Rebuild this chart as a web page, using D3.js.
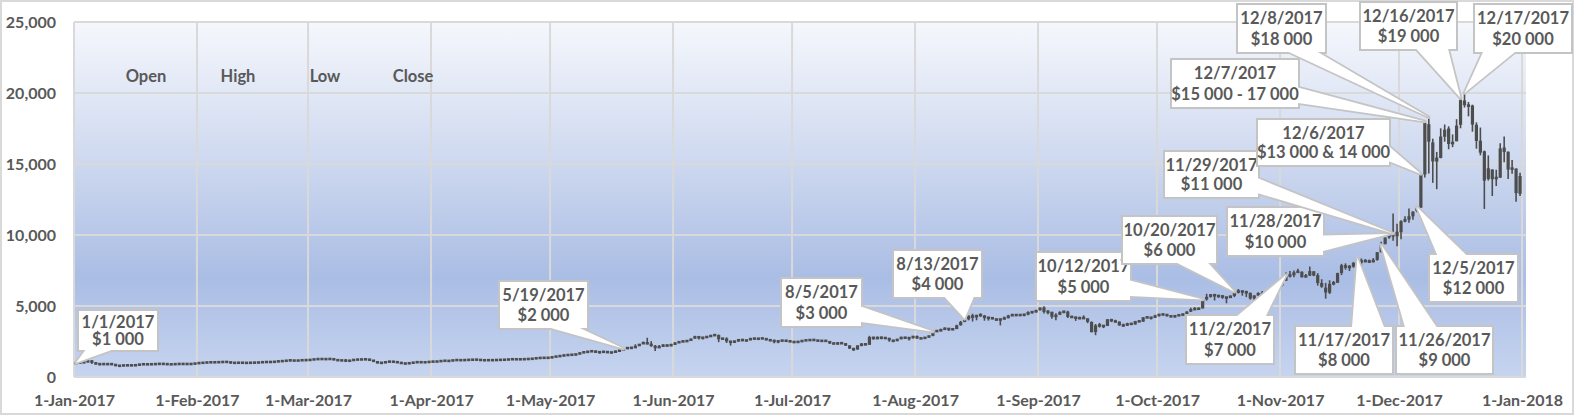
<!DOCTYPE html>
<html><head><meta charset="utf-8">
<script src="https://cdn.jsdelivr.net/npm/d3@7"></script>
<style>
body{margin:0;background:#fff;}
svg text{font-family:Lato,"Open Sans","DejaVu Sans",sans-serif;font-weight:700;fill:#595959;}
</style>
</head><body>
<svg id="c" width="1574" height="415"></svg>
<script>
// ---------- DATA (Bitcoin daily OHLC, 2017) ----------
const startYear = 2017;
const opens = [
964,999,1022,1044,1157,1014,903,908,913,902,908,775,804,825,818,822,831,909,888,898,896,922,926,920,892,894,916,918,920,913,920,
971,990,1011,1032,1040,1034,1053,1064,1062,996,999,1010,1000,992,1011,1011,1031,1052,1061,1055,1080,1121,1118,1172,1171,1144,1174,1188,
1180,1224,1250,1278,1254,1267,1274,1223,1150,1189,1116,1177,1222,1232,1240,1251,1180,1100,970,1025,1048,1114,1042,1045,938,971,969,1045,1047,1038,1041,
1081,1080,1098,1146,1134,1136,1200,1190,1180,1205,1209,1226,1218,1180,1185,1187,1187,1205,1212,1220,1248,1253,1244,1250,1257,1281,1290,1340,1345,1353,
1348,1421,1454,1490,1540,1556,1579,1596,1723,1757,1780,1845,1723,1772,1781,1722,1727,1818,1897,1985,2067,2043,2191,2321,2447,2320,2197,2054,2160,2255,2187,
2289,2412,2493,2512,2553,2711,2870,2721,2808,2828,2942,2953,2680,2716,2499,2469,2514,2665,2549,2600,2722,2683,2707,2738,2590,2592,2478,2553,2568,2539,
2492,2436,2498,2564,2602,2608,2608,2520,2572,2525,2385,2333,2403,2360,2230,1991,1932,2233,2323,2269,2838,2668,2809,2733,2757,2577,2539,2682,2807,2724,2763,
2871,2728,2709,2807,2898,3258,3213,3370,3421,3342,3374,3650,3880,4066,4327,4201,4384,4325,4137,4189,4091,3998,4089,4137,4333,4372,4345,4385,4389,4570,4555,
4701,4901,4585,4592,4229,4376,4590,4606,4229,4229,4123,4169,4131,3875,3166,3637,3606,3591,4073,3916,3901,3629,3630,3780,3696,3929,3892,4211,4171,4166,
4342,4395,4408,4319,4230,4324,4370,4429,4614,4777,4789,4829,5465,5643,5836,5687,5741,5604,5584,5709,6006,6037,6006,5935,5525,5747,5904,5787,5755,6114,6132,
6440,6778,7087,7164,7404,7403,7023,7142,7446,7173,6618,6295,5938,6561,6634,7323,7853,7698,7769,8040,8205,8077,8233,8075,8241,8790,9353,9823,10077,9906,
10198,10978,11082,11315,11685,11923,14266,17802,16523,15168,15427,16919,17500,16384,16601,17760,19475,19106,19118,17760,16642,15899,13949,14608,13996,14036,16163,15864,14695,14681,12898
];
const highs = [
1003,1031,1044,1159,1191,1047,909,943,914,915,919,826,829,835,823,835,911,918,905,899,927,938,928,923,898,920,920,923,920,921,971,
989,1013,1034,1045,1041,1052,1063,1080,1077,1003,1015,1010,1009,1014,1014,1034,1056,1067,1061,1085,1123,1125,1172,1200,1175,1176,1190,1193,
1223,1263,1281,1280,1267,1275,1274,1232,1197,1270,1201,1231,1239,1244,1256,1254,1180,1113,1061,1051,1120,1115,1062,1046,975,1010,1046,1059,1056,1049,1081,
1104,1107,1146,1150,1135,1200,1201,1200,1209,1210,1226,1226,1222,1191,1193,1190,1205,1217,1225,1249,1256,1259,1252,1258,1281,1294,1345,1347,1355,1367,
1436,1474,1494,1608,1568,1579,1597,1723,1800,1788,1874,1859,1774,1800,1782,1752,1846,1904,1998,2084,2077,2303,2321,2493,2763,2528,2257,2262,2300,2301,2335,
2448,2488,2581,2552,2700,2900,2870,2808,2833,2950,2979,2996,2718,2796,2534,2527,2686,2671,2622,2764,2745,2732,2747,2738,2681,2630,2552,2604,2590,2556,
2515,2515,2595,2611,2616,2616,2608,2570,2572,2537,2413,2423,2425,2363,2231,2058,2230,2387,2397,2900,2838,2863,2832,2777,2768,2610,2694,2829,2809,2759,2889,
2922,2763,2813,2896,3290,3293,3396,3485,3422,3453,3680,3949,4208,4325,4455,4381,4484,4371,4243,4196,4109,4128,4255,4376,4455,4379,4416,4403,4626,4626,4736,
4892,4975,4714,4592,4485,4617,4655,4662,4308,4246,4245,4344,4131,3921,3733,3808,3664,4079,4094,4032,3916,3758,3819,3795,3950,3969,4211,4256,4214,4383,
4403,4470,4432,4352,4360,4414,4460,4624,4878,4922,4873,5446,5857,5837,5852,5776,5765,5605,5745,6061,6194,6076,6075,5935,5747,5971,6060,5867,6255,6214,6470,
6767,7367,7461,7492,7617,7445,7253,7776,7446,7312,6885,6625,6811,6764,7342,7967,8004,7884,8102,8265,8348,8302,8268,8374,8790,9522,9818,10125,11517,10801,
11046,11320,11858,11658,12032,14369,17899,18353,16784,15851,17513,17781,17653,17085,18155,19716,20089,19371,19177,17935,17568,15943,15603,14626,14593,16461,16930,15888,15279,14681,14377
];
const lows = [
959,997,1022,1044,910,884,824,887,880,901,763,756,780,812,813,820,831,858,884,887,896,898,917,892,888,894,910,916,911,913,918,
971,983,1008,1015,1018,1034,1047,1051,946,966,996,996,984,990,1005,1010,1030,1052,1042,1049,1080,1100,1117,1094,1122,1130,1174,1170,
1180,1215,1250,1249,1238,1263,1177,1149,1141,1055,1116,1175,1220,1220,1240,1154,1069,960,970,1025,1048,1020,1031,934,904,966,966,1031,1012,1020,1039,
1075,1080,1096,1114,1117,1136,1172,1175,1179,1198,1204,1213,1166,1170,1178,1180,1179,1202,1205,1216,1240,1230,1239,1245,1255,1280,1290,1315,1335,1340,
1348,1405,1446,1490,1500,1555,1536,1596,1717,1729,1778,1695,1654,1751,1699,1672,1709,1807,1897,1984,1985,2043,2191,2321,2301,2128,1835,2045,2106,2159,2187,
2289,2396,2476,2492,2553,2711,2635,2649,2777,2828,2883,2455,2644,2396,2212,2405,2484,2515,2530,2600,2625,2644,2707,2583,2526,2374,2369,2492,2519,2476,
2419,2412,2480,2562,2559,2582,2498,2492,2518,2321,2296,2276,2341,2183,1979,1843,1932,2164,2260,2269,2622,2667,2653,2700,2481,2450,2530,2662,2692,2577,2720,
2685,2669,2709,2780,2875,3183,3211,3345,3247,3332,3374,3613,3858,3989,3906,3994,4243,3964,3971,4069,3988,3633,4078,4130,4307,4292,4317,4280,4353,4471,4549,
4679,4469,4417,4103,3998,4376,4492,4155,4154,3952,4073,4083,3789,3153,2946,3487,3445,3591,3868,3856,3614,3553,3594,3666,3696,3880,3892,4139,4047,4166,
4269,4378,4258,4210,4198,4320,4318,4429,4574,4755,4751,4822,5380,5591,5387,5575,5508,5193,5584,5628,5888,5729,5627,5451,5409,5720,5731,5688,5684,6040,6103,
6377,6758,7002,7031,7333,7007,7023,7115,7102,6436,6281,5519,5844,6461,6634,7176,7561,7463,7694,7997,7762,8075,8038,8075,8191,8775,9353,9736,9601,9202,
9694,10906,10862,11081,11605,11923,14057,14336,13674,13226,15404,16571,16039,16185,16601,17515,18974,18355,17276,16077,15608,11834,13828,12747,13448,14028,15115,13937,14307,12350,12755
];
const closes = [
998,1022,1044,1155,1013,902,909,911,903,908,778,805,824,818,822,832,908,887,899,895,922,925,921,893,894,916,919,920,914,920,970,
989,1011,1029,1040,1034,1052,1063,1061,995,999,1010,999,991,1012,1011,1030,1052,1061,1055,1080,1120,1118,1171,1177,1146,1174,1188,1189,
1223,1251,1274,1255,1267,1272,1223,1150,1188,1116,1176,1221,1231,1240,1250,1187,1100,973,1022,1047,1115,1039,1044,934,965,966,1046,1045,1038,1037,1079,
1087,1099,1144,1142,1133,1197,1190,1181,1205,1208,1226,1218,1180,1185,1186,1187,1205,1210,1219,1247,1255,1243,1252,1257,1280,1285,1345,1342,1355,1348,
1421,1453,1491,1537,1555,1578,1596,1723,1756,1788,1849,1725,1771,1776,1723,1734,1839,1889,1987,2084,2041,2173,2321,2444,2304,2202,2039,2155,2256,2175,2286,
2407,2488,2516,2550,2697,2863,2732,2806,2823,2947,2958,2659,2717,2506,2464,2519,2655,2548,2590,2721,2689,2706,2727,2590,2589,2478,2552,2574,2540,2481,
2434,2507,2565,2601,2601,2609,2519,2572,2518,2372,2337,2398,2357,2233,1999,1930,2228,2319,2273,2817,2667,2810,2730,2754,2576,2529,2671,2809,2726,2757,2875,
2718,2711,2804,2895,3252,3213,3378,3419,3342,3381,3650,3884,4073,4325,4181,4376,4331,4160,4194,4087,4001,4101,4151,4334,4371,4352,4382,4382,4579,4565,4703,
4892,4579,4582,4236,4376,4597,4599,4229,4226,4122,4161,4130,3882,3154,3637,3625,3582,4066,3925,3906,3631,3631,3776,3703,3942,3910,4208,4185,4174,4338,
4403,4409,4317,4229,4328,4370,4427,4611,4772,4782,4826,5446,5647,5831,5679,5726,5605,5590,5708,6011,6031,6008,5930,5526,5750,5904,5780,5754,6154,6131,6469,
6767,7079,7207,7380,7407,7023,7144,7460,7143,6619,6357,5951,6559,6636,7315,7871,7708,7790,8036,8200,8071,8254,8038,8253,8791,9330,9818,10058,9888,10233,
10975,11074,11323,11657,11916,14291,17899,16569,15178,15455,16936,17415,16408,16564,17706,19497,19140,19114,17776,16624,15802,13831,14700,13926,14027,16099,15838,14606,14656,12952,14156
];
const yTicks = [0, 5000, 10000, 15000, 20000, 25000];
const xTickLabels = ["1-Jan-2017","1-Feb-2017","1-Mar-2017","1-Apr-2017","1-May-2017","1-Jun-2017",
  "1-Jul-2017","1-Aug-2017","1-Sep-2017","1-Oct-2017","1-Nov-2017","1-Dec-2017","1-Jan-2018"];
const legendLabels = ["Open","High","Low","Close"];
// callouts: label lines, the day the pointer targets, and the price it targets
const calloutLabels = [
  ["1/1/2017","$1 000"],["5/19/2017","$2 000"],["8/5/2017","$3 000"],["8/13/2017","$4 000"],
  ["10/12/2017","$5 000"],["10/20/2017","$6 000"],["11/2/2017","$7 000"],["11/17/2017","$8 000"],
  ["11/26/2017","$9 000"],["11/28/2017","$10 000"],["11/29/2017","$11 000"],["12/5/2017","$12 000"],
  ["12/6/2017","$13 000 & 14 000"],["12/7/2017","$15 000 - 17 000"],["12/8/2017","$18 000"],
  ["12/16/2017","$19 000"],["12/17/2017","$20 000"]
];
const calloutTipDays = ["2017-01-01","2017-05-19","2017-08-05","2017-08-13","2017-10-12","2017-10-20",
  "2017-11-02","2017-11-20","2017-11-26","2017-11-28","2017-11-29","2017-12-05","2017-12-06",
  "2017-12-07","2017-12-08","2017-12-16","2017-12-17"];
const calloutTipValues = [1000,2000,3200,4100,5450,6011,7180,8380,9300,10070,10100,11970,14300,18000,18300,19650,20000];

// ---------- LAYOUT ----------
const PL = 74, PR = 1526, PT = 22, PB = 377;
const calloutBoxes = [ // x, y, w, h
  [79,311,78,39],[500,282,87,46],[782,279,79,47],[894,251,87,46],
  [1037,253,93,47],[1123,217,93,46],[1187,316,86,47],[1296,327,96,46],
  [1397,327,95,46],[1228,208,95,47],[1165,152,93,45],[1430,255,87,46],
  [1258,120,131,45],[1172,60,126,47],[1238,5,87,47],[1361,3,95,46],[1475,5,96,47]
];
const legendX = [146, 238, 325, 413];

const svg = d3.select("#c");
const DAY = 864e5;
const parse = s => new Date(s + "T00:00:00Z");

// chart border
svg.append("rect").attr("x",1).attr("y",1).attr("width",1572).attr("height",413)
  .attr("fill","#fff").attr("stroke","#d9d9d9").attr("stroke-width",2);

// gradient background of plot area
const grad = svg.append("defs").append("linearGradient").attr("id","bg")
  .attr("x1",0).attr("y1",0).attr("x2",0).attr("y2",1);
[[0,"#f5f7fc"],[0.4,"#cdd8ef"],[0.72,"#aabde4"],[1,"#c6d4ef"]].forEach(([o,c]) =>
  grad.append("stop").attr("offset",o).attr("stop-color",c));
svg.append("rect").attr("x",PL).attr("y",PT).attr("width",PR-PL).attr("height",PB-PT).attr("fill","url(#bg)");

const x = d3.scaleUtc().domain([new Date(Date.UTC(startYear,0,1)), new Date(Date.UTC(startYear+1,0,2))]).range([PL,PR]);
const y = d3.scaleLinear().domain([0,25000]).range([PB,PT]);
const monthTicks = d3.utcMonth.range(new Date(Date.UTC(startYear,0,1)), new Date(Date.UTC(startYear+1,0,2)));

// gridlines
const grid = svg.append("g").attr("stroke","#d9d9d9").attr("stroke-width",2);
grid.selectAll("line.h").data(yTicks).join("line").attr("class","h")
  .attr("x1",PL).attr("x2",PR).attr("y1",d=>y(d)).attr("y2",d=>y(d));
grid.selectAll("line.v").data(monthTicks).join("line").attr("class","v")
  .attr("x1",d=>x(d)).attr("x2",d=>x(d)).attr("y1",PT).attr("y2",PB);

// axes (labels only)
const yAxis = svg.append("g").attr("transform",`translate(${PL},0)`)
  .call(d3.axisLeft(y).tickValues(yTicks).tickFormat(d3.format(",")).tickSize(0).tickPadding(18));
const xAxis = svg.append("g").attr("transform",`translate(0,${PB})`)
  .call(d3.axisBottom(x).tickValues(monthTicks).tickFormat((d,i)=>xTickLabels[i]).tickSize(0).tickPadding(18));
[yAxis,xAxis].forEach(g => {
  g.select(".domain").remove();
  g.attr("font-family",null).attr("font-size",null);
  g.selectAll("text").attr("fill","#595959").style("font-size","16px");
});

// legend labels
svg.append("g").selectAll("text").data(legendLabels).join("text")
  .attr("x",(d,i)=>legendX[i]).attr("y",76).attr("text-anchor","middle")
  .attr("dominant-baseline","central").style("font-size","16.5px").text(d=>d);

// candles
const data = closes.map((c,i)=>({date:new Date(Date.UTC(startYear,0,1+i)), o:opens[i], h:highs[i], l:lows[i], c}));
const cx = d => x(new Date(+d.date + DAY/2));
const MINH = 2.6;
const cg = svg.append("g");
cg.selectAll("line").data(data).join("line")
  .attr("x1",cx).attr("x2",cx).attr("y1",d=>y(d.h)).attr("y2",d=>y(d.l))
  .attr("stroke","#4d4d4d").attr("stroke-width",1.6);
cg.selectAll("rect").data(data).join("rect")
  .attr("x",d=>cx(d)-1.6).attr("width",3.2)
  .attr("y",d=>{const t=Math.min(y(d.o),y(d.c)), hh=Math.abs(y(d.o)-y(d.c)); return hh<MINH ? (t+hh/2-MINH/2) : t;})
  .attr("height",d=>Math.max(MINH,Math.abs(y(d.o)-y(d.c))))
  .attr("fill","#4d4d4d");

// callouts
function wedge(bx,by,bw,bh,tx,ty){
  const mx=bx+bw/2, my=by+bh/2, dx=tx-mx, dy=ty-my, dq=dx*bh/bw;
  let p1,p2;
  if (Math.abs(dy) > Math.abs(dq)) {
    const ey = dy>0 ? by+bh : by;
    const f = dx<0 ? [1/12,5/12] : [7/12,11/12];
    p1=[bx+bw*f[0],ey]; p2=[bx+bw*f[1],ey];
  } else {
    const ex = dx>0 ? bx+bw : bx;
    const f = dy<0 ? [1/12,5/12] : [7/12,11/12];
    p1=[ex,by+bh*f[0]]; p2=[ex,by+bh*f[1]];
  }
  return `M${p1[0]},${p1[1]}L${tx},${ty}L${p2[0]},${p2[1]}Z`;
}
calloutLabels.forEach((lines,i)=>{
  const [bx,by,bw,bh] = calloutBoxes[i];
  const tx = x(new Date(+parse(calloutTipDays[i]) + DAY/2)), ty = y(calloutTipValues[i]);
  const g = svg.append("g");
  const path = wedge(bx,by,bw,bh,tx,ty);
  g.append("path").attr("d",path).attr("fill","#fff").attr("stroke","#c4c4c4").attr("stroke-width",3.5).attr("stroke-linejoin","round");
  g.append("rect").attr("x",bx).attr("y",by).attr("width",bw).attr("height",bh).attr("fill","#fff").attr("stroke","#c4c4c4").attr("stroke-width",4);
  g.append("path").attr("d",path).attr("fill","#fff");
  g.append("rect").attr("x",bx).attr("y",by).attr("width",bw).attr("height",bh).attr("fill","#fff");
  const off = bh*0.22;
  lines.forEach((t,k)=>{
    g.append("text").attr("x",bx+bw/2).attr("y",by+bh/2+(k===0?-off:off))
      .attr("text-anchor","middle").attr("dominant-baseline","central").style("font-size","16.5px").text(t);
  });
});
</script>
</body></html>
